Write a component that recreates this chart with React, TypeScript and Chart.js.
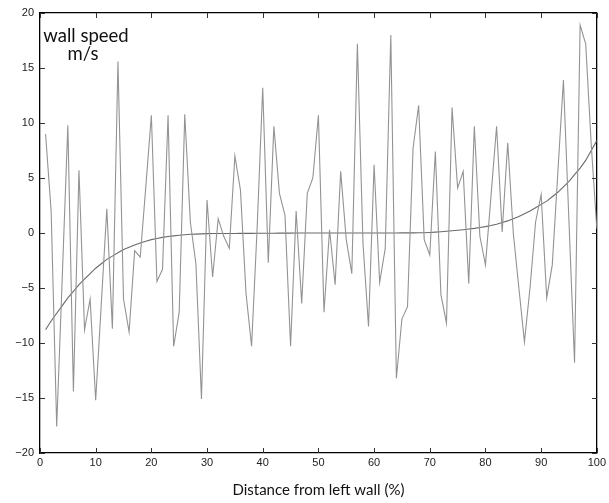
import React, { useEffect, useRef } from "react";
import { Chart, registerables } from "chart.js";

Chart.register(...registerables);

// Measured wall speed (m/s) at 1%..100% distance from left wall
const speedValues = [
  9.0, 2.0, -17.6, -4.0, 9.8, -14.4, 5.7, -8.8, -6.0, -15.2,
  -6.5, 2.2, -8.7, 15.6, -6.0, -9.0, -1.6, -2.2, 4.2, 10.7,
  -4.4, -3.3, 10.7, -10.3, -7.2, 10.8, 1.0, -2.8, -15.1, 3.0,
  -4.0, 1.3, -0.3, -1.4, 7.0, 3.9, -5.5, -10.3, 0.5, 13.2,
  -2.7, 9.7, 3.6, 1.6, -10.3, 2.0, -6.4, 3.6, 5.0, 10.7,
  -7.2, 0.3, -4.7, 5.6, -0.6, -3.7, 17.2, -0.9, -8.5, 6.2,
  -4.5, -1.4, 18.0, -13.2, -7.8, -6.7, 7.7, 11.6, -0.6, -2.0,
  7.4, -5.6, -8.2, 11.4, 4.1, 5.6, -4.6, 9.7, -0.3, -2.9,
  3.4, 9.7, 0.1, 8.2, 0.0, -5.0, -9.9, -5.0, 1.0, 3.5,
  -5.9, -2.9, 5.5, 13.9, 1.0, -11.8, 18.9, 17.2, 8.0, 0.4,
];

// Smooth (fitted) wall speed profile
const smoothValues = [
  -8.8, -8.0, -7.3, -6.6, -5.9, -5.3, -4.7, -4.2, -3.7, -3.2,
  -2.8, -2.4, -2.1, -1.8, -1.5, -1.3, -1.1, -0.9, -0.75, -0.6,
  -0.5, -0.4, -0.32, -0.26, -0.2, -0.16, -0.12, -0.1, -0.08, -0.06,
  -0.05, -0.05, -0.04, -0.04, -0.04, -0.03, -0.03, -0.03, -0.02, -0.02,
  -0.02, -0.02, -0.01, -0.01, -0.01, 0, 0, 0, 0, 0,
  0, 0, 0, 0, 0, 0, 0, 0, 0, 0,
  0, 0, 0, 0, 0.01, 0.01, 0.01, 0.02, 0.02, 0.05,
  0.08, 0.12, 0.16, 0.2, 0.25, 0.3, 0.36, 0.42, 0.5, 0.58,
  0.68, 0.8, 0.95, 1.1, 1.3, 1.5, 1.75, 2.0, 2.3, 2.6,
  2.9, 3.3, 3.7, 4.2, 4.7, 5.3, 5.9, 6.6, 7.5, 8.4,
];

const xTicks = [0, 10, 20, 30, 40, 50, 60, 70, 80, 90, 100];
const yTicks = [-20, -15, -10, -5, 0, 5, 10, 15, 20];
const xTitle = "Distance from left wall (%)";
const noteLines = ["wall speed", "m/s"];

const tickPlugin = {
  id: "inwardTicks",
  afterDraw(chart: any) {
    const { ctx, chartArea: a, scales } = chart;
    const xs = scales.x;
    const ys = scales.y;
    const l = Math.round(a.left);
    const r = Math.round(a.right);
    const t = Math.round(a.top);
    const b = Math.round(a.bottom);
    ctx.save();
    ctx.strokeStyle = "#333333";
    ctx.lineWidth = 1;
    ctx.setLineDash([]);
    ctx.beginPath();
    const L = 5;
    xTicks.forEach((v) => {
      const px = Math.round(xs.getPixelForValue(v)) + 0.5;
      ctx.moveTo(px, b);
      ctx.lineTo(px, b - L);
      ctx.moveTo(px, t);
      ctx.lineTo(px, t + L);
    });
    yTicks.forEach((v) => {
      const py = Math.round(ys.getPixelForValue(v)) + 0.5;
      ctx.moveTo(l, py);
      ctx.lineTo(l + L, py);
      ctx.moveTo(r, py);
      ctx.lineTo(r - L, py);
    });
    ctx.stroke();
    ctx.fillStyle = "#111";
    ctx.font = "18.5px 'Lato', 'Open Sans', sans-serif";
    ctx.textBaseline = "alphabetic";
    ctx.textAlign = "center";
    ctx.fillText(noteLines[0], l + 46, t + 29);
    ctx.fillText(noteLines[1], l + 43, t + 47);
    ctx.restore();
  },
};

const tickFont = { family: "'Liberation Sans', Arial, sans-serif", size: 11 };
const frameBorder = { display: true, color: "#000000", width: 1.3 };

export default function App() {
  const ref = useRef<HTMLCanvasElement>(null);
  useEffect(() => {
    const canvas = ref.current;
    if (!canvas) return;
    const chart = new Chart(canvas, {
      type: "line",
      data: {
        datasets: [
          {
            data: speedValues.map((v, i) => ({ x: i + 1, y: v })),
            borderColor: "#939393",
            borderWidth: 1.1,
            pointRadius: 0,
            tension: 0,
            xAxisID: "x",
            yAxisID: "y",
          },
          {
            data: smoothValues.map((v, i) => ({ x: i + 1, y: v })),
            borderColor: "#6a6a6a",
            borderWidth: 1.1,
            pointRadius: 0,
            tension: 0,
            xAxisID: "x",
            yAxisID: "y",
          },
        ],
      },
      options: {
        animation: false,
        responsive: false,
        layout: { padding: { top: 13, right: 11, left: 0, bottom: 0 } },
        plugins: { legend: { display: false }, tooltip: { enabled: false } },
        scales: {
          x: {
            type: "linear",
            position: "bottom",
            min: 0,
            max: 100,
            afterBuildTicks: (s: any) => {
              s.ticks = xTicks.map((v) => ({ value: v }));
            },
            afterFit: (s: any) => {
              s.height = 50;
            },
            grid: { display: false, drawTicks: false },
            border: frameBorder,
            ticks: { color: "#222", padding: 3, maxRotation: 0, font: tickFont },
            title: {
              display: true,
              text: xTitle,
              color: "#111",
              padding: { top: 0, bottom: 4 },
              font: { family: "'Lato', 'Open Sans', sans-serif", size: 15 },
            },
          },
          xTop: {
            type: "linear",
            position: "top",
            min: 0,
            max: 100,
            afterFit: (s: any) => {
              s.height = 0;
            },
            grid: { display: false, drawTicks: false },
            border: frameBorder,
            ticks: { display: false },
          },
          y: {
            type: "linear",
            position: "left",
            min: -20,
            max: 20,
            afterBuildTicks: (s: any) => {
              s.ticks = yTicks.map((v) => ({ value: v }));
            },
            afterFit: (s: any) => {
              s.width = 40;
            },
            grid: { display: false, drawTicks: false },
            border: frameBorder,
            ticks: {
              color: "#222",
              padding: 6,
              callback: (v: any) => (Number(v) < 0 ? "\u2212" + Math.abs(Number(v)) : String(v)),
              font: tickFont,
            },
          },
          yRight: {
            type: "linear",
            position: "right",
            min: -20,
            max: 20,
            afterFit: (s: any) => {
              s.width = 0;
            },
            grid: { display: false, drawTicks: false },
            border: frameBorder,
            ticks: { display: false },
          },
        },
      },
      plugins: [tickPlugin],
    });
    return () => chart.destroy();
  }, []);
  return (
    <div style={{ position: "absolute", left: 0, top: 0, width: 609, height: 503, background: "#fff" }}>
      <canvas ref={ref} width={609} height={503} style={{ width: 609, height: 503, display: "block" }} />
    </div>
  );
}
